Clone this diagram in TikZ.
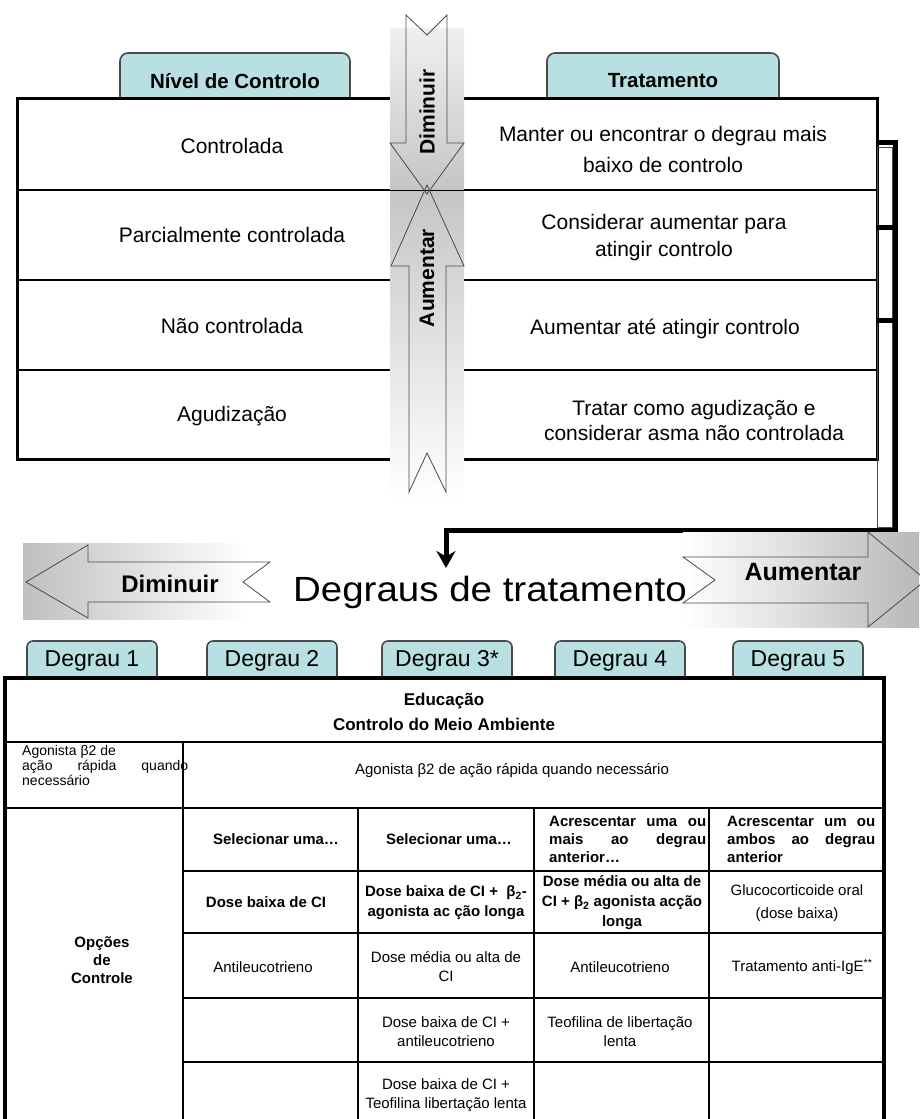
\documentclass[tikz,border=0pt]{standalone}
\usepackage{fontspec}
\setmainfont{Liberation Sans}
\newfontfamily\widefont[FakeStretch=1.1]{Liberation Sans}
\usepackage{tikz}
\usetikzlibrary{arrows.meta}

\definecolor{tabcyan}{HTML}{B8DFE2}
\definecolor{edgegray}{HTML}{4A4A4A}

\tikzset{
  lvl/.style={font=\fontsize{21}{27}\selectfont, align=center},
  tabbox/.style={draw=edgegray, fill=tabcyan, line width=1.6pt},
  tabtxt/.style={font=\fontsize{20.5}{24}\selectfont\bfseries},
  degtxt/.style={font=\fontsize{23}{26}\selectfont},
  cell/.style={font=\fontsize{15}{19}\selectfont, align=center, inner sep=0pt},
  cellb/.style={font=\fontsize{15}{19}\selectfont\bfseries, align=center, inner sep=0pt},
  bandarrow/.style={draw=edgegray, line width=0.8pt},
  boxframe/.style={line width=3pt},
  rowrule/.style={line width=1.3pt},
  bracketline/.style={line width=5pt},
}

\begin{document}
\begin{tikzpicture}[x=1pt,y=-1pt]
  \useasboundingbox (0,0) rectangle (919,1119);

  \draw[tabbox] (120,98) [rounded corners=8pt] -- (120,53) -- (350,53) [sharp corners] -- (350,98);
  \draw[tabbox] (547,98) [rounded corners=8pt] -- (547,53) -- (779,53) [sharp corners] -- (779,98);
  \node[tabtxt] (nivel) at (235,81) {Nível de Controlo};
  \node[tabtxt] (trat) at (663,81) {Tratamento};

  \draw[boxframe] (17,98) rectangle (877,459);
  \foreach \y in {190,280,370}
    \draw[rowrule] (17,\y) -- (877,\y);

  \node[lvl] (ctrl) at (232,146) {Controlada};
  \node[lvl] (parc) at (232,235) {Parcialmente controlada};
  \node[lvl] (naoc) at (232,326) {Não controlada};
  \node[lvl] (agud) at (232,416) {Agudização};

  \node[lvl, font=\fontsize{21}{31}\selectfont] (manter) at (663,149) {Manter ou encontrar o degrau mais\\baixo de controlo};
  \node[lvl] (consid) at (664,238) {Considerar aumentar para\\atingir controlo};
  \node[lvl] (aument) at (665,329) {Aumentar até atingir controlo};
  \node[lvl, font=\fontsize{21}{25}\selectfont] (tratar) at (694,420) {Tratar como agudização e\\considerar asma não controlada};

  \shade[top color=gray!12, bottom color=gray!45] (390,28) rectangle (464,189);
  \shade[top color=gray!45, bottom color=white] (390,191) rectangle (464,500);
  \draw[bandarrow] (406,15) -- (427,35) -- (447,15) -- (447,143) -- (464,143)
    -- (427,194) -- (390,143) -- (406,143) -- cycle;
  \draw[bandarrow] (427,185) -- (464,266) -- (446,266) -- (446,492) -- (427,453)
    -- (409,492) -- (409,266) -- (391,266) -- cycle;
  \node[tabtxt, font=\fontsize{21}{24}\selectfont\bfseries, rotate=90] (dimv) at (427,112) {Diminuir};
  \node[tabtxt, font=\fontsize{21}{24}\selectfont\bfseries, rotate=90] (aumv) at (427,278) {Aumentar};

  \coordinate (stub1) at (877,142);
  \coordinate (stub2) at (877,227);
  \coordinate (stub3) at (877,320);
  \coordinate (corner) at (895,530);
  \coordinate (drop) at (446,568);
  \draw[line width=0.8pt, edgegray] (877,147) rectangle (892,527);
  \draw[bracketline] (stub2) -- (stub2 -| corner);
  \draw[bracketline] (stub3) -- (stub3 -| corner);
  \draw[bracketline, -{Stealth[length=17pt, width=19pt]}] (stub1) -| (corner) -| (drop);

  \shade[left color=gray!50, right color=white] (23,543) rectangle (246,619);
  \draw[bandarrow] (26,582) -- (88,545) -- (88,562) -- (270,562) -- (243,582)
    -- (270,602) -- (88,602) -- (88,618) -- cycle;
  \node[font=\fontsize{24}{26}\selectfont\bfseries] (dimh) at (170,584) {Diminuir};

  \shade[left color=white, right color=gray!55] (683,532) rectangle (919,627);
  \draw[bandarrow] (683,557) -- (715,580) -- (683,603) -- (868,603) -- (868,627)
    -- (926,580) -- (868,532) -- (868,557) -- cycle;
  \node[font=\fontsize{25}{27}\selectfont\bfseries] (aumh) at (803,572) {Aumentar};

  \node[font=\widefont\fontsize{35}{38}\selectfont] (degraus) at (490,592) {Degraus de tratamento};

  \foreach \x/\t [count=\i] in {27/Degrau 1, 207/Degrau 2, 382/Degrau 3*, 555/Degrau 4, 733/Degrau 5} {
    \draw[tabbox] (\x,678) [rounded corners=6pt] -- (\x,641) -- (\x+130,641) [sharp corners] -- (\x+130,678);
    \node[degtxt] (deg\i) at (\x+65,661) {\t};
  }

  \draw[line width=4pt] (5,678) rectangle (884,1135);
  \draw[rowrule] (5,742) -- (884,742);
  \draw[rowrule] (5,808) -- (884,808);
  \foreach \y in {871,933,998,1062}
    \draw[rowrule] (183,\y) -- (884,\y);
  \draw[rowrule] (183,742) -- (183,1135);
  \foreach \x in {358,534,709}
    \draw[rowrule] (\x,808) -- (\x,1135);

  \node[cellb, font=\fontsize{17}{25}\selectfont\bfseries] (educ) at (444,712) {Educação\\Controlo do Meio Ambiente};

  \node[cell, font=\fontsize{14}{15}\selectfont, anchor=north west, align=left] (agon1) at (22,745)
    {Agonista β2 de\\\makebox[166pt][s]{ação rápida quando}\\necessário};
  \node[cell] (agon2) at (512,771) {Agonista β2 de ação rápida quando necessário};

  \node[cellb] (sel2) at (276,839) {Selecionar uma…};
  \node[cellb] (sel3) at (449,839) {Selecionar uma…};
  \node[cellb, font=\fontsize{15}{18}\selectfont\bfseries, anchor=north west, align=left] (acr4) at (549,816)
    {\makebox[157pt][s]{Acrescentar uma ou}\\\makebox[157pt][s]{mais ao degrau}\\anterior…};
  \node[cellb, font=\fontsize{15}{18}\selectfont\bfseries, anchor=north west, align=left] (acr5) at (727,816)
    {\makebox[148pt][s]{Acrescentar um ou}\\\makebox[148pt][s]{ambos ao degrau}\\anterior};

  \node[cellb] (dose2) at (266,902) {Dose baixa de CI};
  \node[cellb, font=\fontsize{15}{20}\selectfont\bfseries] (dose3) at (446,903) {Dose baixa de CI + \ β\textsubscript{2}-\\agonista ac ção longa};
  \node[cellb, font=\fontsize{15}{20}\selectfont\bfseries] (dose4) at (622,903) {Dose média ou alta de\\CI + β\textsubscript{2} agonista acção\\longa};
  \node[cell, font=\fontsize{15}{23}\selectfont] (gluc5) at (797,903) {Glucocorticoide oral\\(dose baixa)};

  \node[cellb, font=\fontsize{15}{18}\selectfont\bfseries] (opc) at (102,960) {Opções\\de\\Controle};
  \node[cell] (anti2) at (263,967) {Antileucotrieno};
  \node[cell] (dma3) at (446,967) {Dose média ou alta de\\CI};
  \node[cell] (anti4) at (620,967) {Antileucotrieno};
  \node[cell] (ige5) at (802,967) {Tratamento anti-IgE\textsuperscript{**}};

  \node[cell] (dbl3) at (446,1032) {Dose baixa de CI +\\antileucotrieno};
  \node[cell] (teo4) at (620,1032) {Teofilina de libertação\\lenta};
  \node[cell] (dbt3) at (446,1095) {Dose baixa de CI +\\Teofilina libertação lenta};
\end{tikzpicture}
\end{document}
